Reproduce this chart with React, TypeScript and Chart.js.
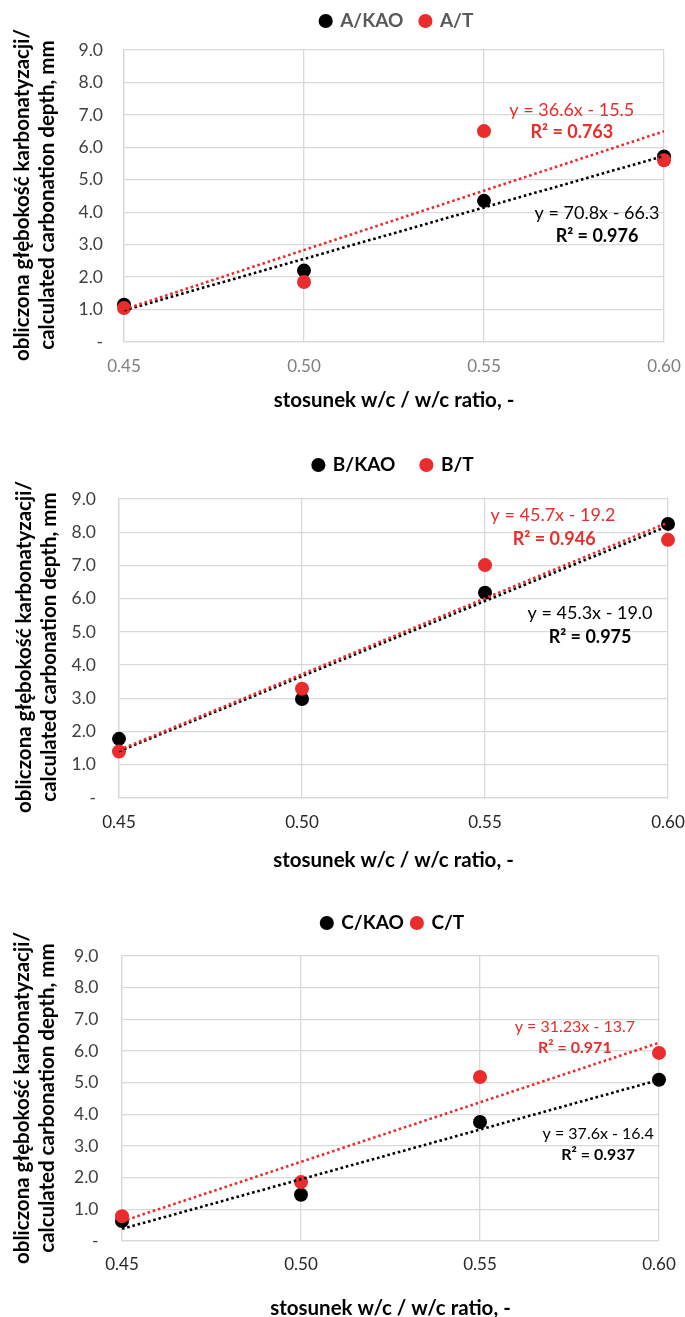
import React, { useEffect, useRef } from 'react';
import { Chart, registerables } from 'chart.js';

Chart.register(...registerables);
Chart.defaults.font.family = 'Lato, "Open Sans", sans-serif';

// ---------- data ----------
const W_C = [0.45, 0.5, 0.55, 0.6];
const X_TICKS = [0.45, 0.5, 0.55, 0.6];
const Y_TICKS = [0, 1, 2, 3, 4, 5, 6, 7, 8, 9];

const A_NAMES = ['A/KAO', 'A/T'];
const A_KAO = [1.15, 2.2, 4.35, 5.72];
const A_T = [1.05, 1.85, 6.5, 5.6];
const A_EQ = ['y = 70.8x - 66.3', 'R² = 0.976', 'y = 36.6x - 15.5', 'R² = 0.763'];

const B_NAMES = ['B/KAO', 'B/T'];
const B_KAO = [1.78, 2.98, 6.18, 8.25];
const B_T = [1.4, 3.29, 7.01, 7.77];
const B_EQ = ['y = 45.3x - 19.0', 'R² = 0.975', 'y = 45.7x - 19.2', 'R² = 0.946'];

const C_NAMES = ['C/KAO', 'C/T'];
const C_KAO = [0.63, 1.46, 3.76, 5.09];
const C_T = [0.78, 1.86, 5.18, 5.94];
const C_EQ = ['y = 37.6x - 16.4', 'R² = 0.937', 'y = 31.23x - 13.7', 'R² = 0.971'];

const Y_TITLE = ['obliczona głębokość karbonatyzacji/', 'calculated carbonation depth, mm'];
const X_TITLE = 'stosunek w/c / w/c ratio, -';

// ---------- styles / layout ----------
const BLACK = '#000000';
const RED = 'rgb(234,44,44)';
const GRID = '#d9d9d9';
const W = 685;

type Spec = {
  names: string[]; kao: number[]; t: number[]; eq: string[];
  h: number; slot: number; left: number; right: number; top: number; bottom: number;
  legendY: number; legendGap: number; legendDx: number; legendColor: string;
  yTickPad: number; yTitleX: number; yTitleY: number; xTickPad: number; xTitleCenter: number;
  xTickColor: string; yTickColor: string;
  eqSize: number; eqPos: number[][];
};

const SPECS: Spec[] = [
  {
    names: A_NAMES, kao: A_KAO, t: A_T, eq: A_EQ,
    h: 440, slot: 440, left: 124, right: 664, top: 50, bottom: 342,
    legendY: 21, legendGap: 17, legendDx: 3, legendColor: '#595959',
    yTickPad: 21, yTitleX: 22, yTitleY: 195, xTickPad: 15, xTitleCenter: 400,
    xTickColor: '#7f7f7f', yTickColor: '#404040',
    eqSize: 18, eqPos: [[0.5814, 3.98], [0.5814, 3.27], [0.5744, 7.15], [0.5744, 6.47]],
  },
  {
    names: B_NAMES, kao: B_KAO, t: B_T, eq: B_EQ,
    h: 440, slot: 440, left: 119, right: 668, top: 59, bottom: 358,
    legendY: 25, legendGap: 26, legendDx: 0, legendColor: '#000000',
    yTickPad: 23, yTitleX: 24, yTitleY: 207, xTickPad: 15, xTitleCenter: 420,
    xTickColor: '#262626', yTickColor: '#404040',
    eqSize: 18, eqPos: [[0.5787, 5.57], [0.5787, 4.85], [0.5686, 8.52], [0.5689, 7.8]],
  },
  {
    names: C_NAMES, kao: C_KAO, t: C_T, eq: C_EQ,
    h: 450, slot: 437, left: 122, right: 659, top: 76, bottom: 361,
    legendY: 43, legendGap: 8, legendDx: 2.5, legendColor: '#000000',
    yTickPad: 23.5, yTitleX: 22, yTitleY: 218, xTickPad: 14, xTitleCenter: 428,
    xTickColor: '#262626', yTickColor: '#404040',
    eqSize: 16, eqPos: [[0.583, 3.38], [0.583, 2.72], [0.5765, 6.76], [0.5765, 6.09]],
  },
];

function fitLine(xs: number[], ys: number[]) {
  const n = xs.length;
  const mx = xs.reduce((a, b) => a + b, 0) / n;
  const my = ys.reduce((a, b) => a + b, 0) / n;
  let sxy = 0, sxx = 0;
  for (let i = 0; i < n; i++) {
    sxy += (xs[i] - mx) * (ys[i] - my);
    sxx += (xs[i] - mx) * (xs[i] - mx);
  }
  const k = sxy / sxx;
  const b = my - k * mx;
  return [{ x: xs[0], y: k * xs[0] + b }, { x: xs[n - 1], y: k * xs[n - 1] + b }];
}

const legendTweak = {
  id: 'legendTweak',
  beforeLayout(chart: any, _args: any, opts: any) {
    const lg = chart.legend;
    if (!lg || lg.__tweaked) return;
    lg.__tweaked = true;
    const fit = lg.fit.bind(lg);
    lg.fit = function () { fit(); this.height = opts.height; };
    const draw = lg.draw.bind(lg);
    lg.draw = function () {
      const ctx = chart.ctx;
      ctx.save();
      ctx.translate(opts.dx, opts.dy);
      draw();
      ctx.restore();
    };
  },
};

const eqLabels = {
  id: 'eqLabels',
  afterDatasetsDraw(chart: any, _args: any, opts: any) {
    const { ctx } = chart;
    const xs = chart.scales.x, ys = chart.scales.y;
    ctx.save();
    ctx.textAlign = 'center';
    ctx.textBaseline = 'middle';
    for (const it of opts.items) {
      ctx.font = `${it.bold ? 'bold ' : ''}${opts.size}px Lato, "Open Sans", sans-serif`;
      ctx.fillStyle = it.color;
      ctx.fillText(it.text, xs.getPixelForValue(it.x), ys.getPixelForValue(it.y));
    }
    ctx.restore();
  },
};

// vertical axis title drawn without Chart.js' width compression
const yTitle = {
  id: 'yTitle',
  afterDraw(chart: any, _args: any, opts: any) {
    const { ctx } = chart;
    ctx.save();
    ctx.translate(opts.x, opts.y);
    ctx.rotate(-Math.PI / 2);
    ctx.textAlign = 'center';
    ctx.textBaseline = 'middle';
    ctx.fillStyle = opts.color;
    ctx.font = `bold ${opts.size}px Lato, "Open Sans", sans-serif`;
    opts.lines.forEach((line: string, i: number) => ctx.fillText(line, 0, i * opts.lh));
    ctx.restore();
  },
};

function buildConfig(s: Spec): any {
  const LEG_FONT = 19;
  const X_TITLE_LH = 24;
  const xH = s.xTitleCenter - s.bottom + X_TITLE_LH / 2;
  const padBottom = s.h - s.bottom - xH;
  const pts = (ys: number[]) => W_C.map((x, i) => ({ x, y: ys[i] }));
  const eqColors = [BLACK, BLACK, RED, RED];
  return {
    type: 'scatter',
    data: {
      datasets: [
        { label: s.names[0], data: pts(s.kao), backgroundColor: BLACK, borderColor: BLACK, borderWidth: 0,
          pointRadius: 7, pointHoverRadius: 7, pointStyle: 'circle', order: 3, clip: false },
        { label: s.names[1], data: pts(s.t), backgroundColor: RED, borderColor: RED, borderWidth: 0,
          pointRadius: 7, pointHoverRadius: 7, pointStyle: 'circle', order: 2, clip: false },
        { label: 'trend ' + s.names[0], data: fitLine(W_C, s.kao), showLine: true, pointRadius: 0,
          borderColor: BLACK, backgroundColor: BLACK, borderWidth: 2.6, borderDash: [2.6, 2.8], order: 1 },
        { label: 'trend ' + s.names[1], data: fitLine(W_C, s.t), showLine: true, pointRadius: 0,
          borderColor: RED, backgroundColor: RED, borderWidth: 2.6, borderDash: [2.6, 2.8], order: 0 },
      ],
    },
    options: {
      animation: false,
      responsive: false,
      maintainAspectRatio: false,
      events: [],
      layout: { padding: { left: 0, top: 0, right: W - s.right, bottom: padBottom } },
      scales: {
        x: {
          type: 'linear', min: 0.45, max: 0.6,
          afterBuildTicks: (sc: any) => { sc.ticks = X_TICKS.map((v) => ({ value: v })); },
          afterFit: (sc: any) => { sc.height = xH; sc.paddingLeft = 0; sc.paddingRight = 0; },
          ticks: {
            padding: s.xTickPad, color: s.xTickColor, maxRotation: 0, autoSkip: false,
            font: { size: 17, lineHeight: '20px' },
            callback: (v: any) => Number(v).toFixed(2),
          },
          grid: { color: GRID, lineWidth: 1.3, drawTicks: false },
          border: { display: true, color: GRID, width: 1.3 },
          title: {
            display: true, text: X_TITLE, color: '#000',
            font: { size: 20.5, weight: 'bold', lineHeight: X_TITLE_LH + 'px' },
            padding: { top: 0, bottom: 0 },
          },
        },
        y: {
          type: 'linear', min: 0, max: 9,
          afterBuildTicks: (sc: any) => { sc.ticks = Y_TICKS.map((v) => ({ value: v })); },
          afterFit: (sc: any) => { sc.width = s.left; sc.paddingTop = 0; sc.paddingBottom = 0; },
          ticks: {
            padding: s.yTickPad, color: s.yTickColor,
            font: { size: 17.5 },
            callback: (v: any) => (Number(v) === 0 ? '-' : Number(v).toFixed(1)),
          },
          grid: { color: GRID, lineWidth: 1.3, drawTicks: false },
          border: { display: true, color: GRID, width: 1.3 },
          title: { display: false },
        },
      },
      plugins: {
        tooltip: { enabled: false },
        legend: {
          display: true, position: 'top', fullSize: false,
          labels: {
            usePointStyle: true, pointStyle: 'circle', boxWidth: 10, boxHeight: 10,
            padding: s.legendGap, color: s.legendColor,
            font: { size: LEG_FONT, weight: 'bold' },
            filter: (item: any) => item.datasetIndex < 2,
            sort: (a: any, b: any) => a.datasetIndex - b.datasetIndex,
          },
        },
        legendTweak: { height: s.top, dx: s.legendDx, dy: s.legendY - (s.legendGap + LEG_FONT / 2) },
        eqLabels: {
          size: s.eqSize,
          items: s.eq.map((text, i) => ({
            text, x: s.eqPos[i][0], y: s.eqPos[i][1], color: eqColors[i], bold: i % 2 === 1,
          })),
        },
        yTitle: { lines: Y_TITLE, x: s.yTitleX, y: s.yTitleY, size: 20.5, lh: 25, color: '#000' },
      },
    },
    plugins: [legendTweak, eqLabels, yTitle],
  };
}

function ChartBox({ spec }: { spec: Spec }) {
  const ref = useRef<HTMLCanvasElement>(null);
  useEffect(() => {
    const chart = new Chart(ref.current as HTMLCanvasElement, buildConfig(spec));
    return () => chart.destroy();
  }, [spec]);
  return (
    <div style={{ height: spec.slot, overflow: 'hidden', position: 'relative' }}>
      <canvas ref={ref} width={W} height={spec.h} style={{ display: 'block', width: W, height: spec.h }} />
    </div>
  );
}

export default function App() {
  return (
    <div style={{ position: 'absolute', left: 0, top: 0, width: W, height: 1317, overflow: 'hidden', background: '#fff' }}>
      {SPECS.map((s, i) => (
        <ChartBox key={i} spec={s} />
      ))}
    </div>
  );
}
